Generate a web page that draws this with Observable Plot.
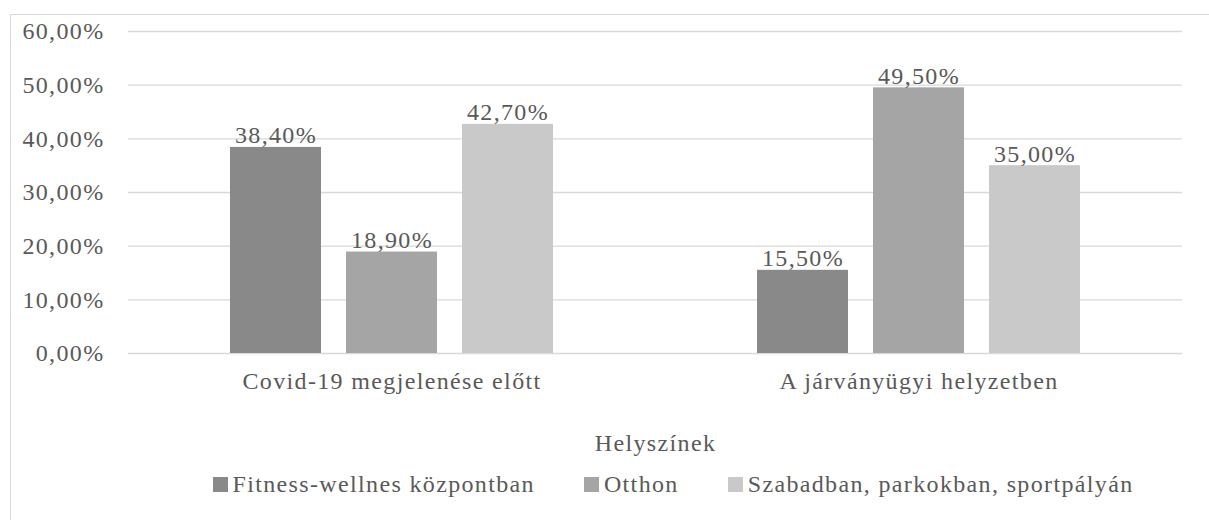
<!DOCTYPE html>
<html><head><meta charset="utf-8">
<script src="https://cdn.jsdelivr.net/npm/d3@7"></script>
<script src="https://cdn.jsdelivr.net/npm/@observablehq/plot@0.6"></script>
<style>
body{margin:0;background:#fff;font-family:"Liberation Serif","Times New Roman",serif;color:#595959;}
#frame{position:absolute;left:10px;top:14px;width:1400px;height:700px;border:1px solid #d9d9d9;pointer-events:none;}
#chart{position:absolute;left:0;top:0;}
#legend{position:absolute;left:0;top:471px;width:1346px;display:flex;justify-content:center;gap:49px;font-size:24px;letter-spacing:1.35px;line-height:26px;}
.item{display:flex;align-items:center;gap:5px}
.sw{width:15px;height:15px;display:inline-block}
svg text{letter-spacing:1.35px}
</style></head><body>
<div id="chart"></div><div id="legend"></div><div id="frame"></div>
<script>
const groups = ["Covid-19 megjelenése előtt", "A járványügyi helyzetben"];
const series = ["Fitness-wellnes központban", "Otthon", "Szabadban, parkokban, sportpályán"];
const fitness = [0.384, 0.155];
const otthon = [0.189, 0.495];
const szabad = [0.427, 0.350];
const colors = ["#898989", "#a5a5a5", "#c9c9c9"];
const yTicks = [0, 0.1, 0.2, 0.3, 0.4, 0.5, 0.6];
const xLabel = "Helyszínek";

const data = [];
groups.forEach((g, i) => {
  [fitness, otthon, szabad].forEach((s, j) => data.push({group: g, series: series[j], value: s[i]}));
});
const fmt = d => (d * 100).toFixed(2).replace(".", ",") + "%";

const plot = Plot.plot({
  width: 1209, height: 460,
  marginLeft: 127, marginRight: 27, marginTop: 31, marginBottom: 107,
  style: {fontFamily: "'Liberation Serif','Times New Roman',serif", fontSize: "24px", color: "#595959", background: "transparent"},
  fx: {domain: groups, padding: 0},
  x: {domain: series, paddingInner: 0.2137, paddingOuter: 0.861, axis: null},
  y: {domain: [0, 0.6]},
  color: {domain: series, range: colors},
  marks: [
    Plot.ruleY(yTicks, {stroke: "#d9d9d9", strokeWidth: 1.3}),
    Plot.axisY(yTicks, {tickFormat: fmt, tickSize: 0, tickPadding: 24, label: null, fontSize: 24}),
    Plot.axisFx({anchor: "bottom", tickSize: 0, tickPadding: 18, label: xLabel, labelAnchor: "center", labelArrow: "none", labelOffset: 97, fontSize: 24}),
    Plot.barY(data, {fx: "group", x: "series", y: "value", fill: "series"}),
    Plot.text(data, {fx: "group", x: "series", y: "value", text: d => fmt(d.value), lineAnchor: "bottom", dy: -4, fontSize: 24, fill: "#595959"})
  ]
});
document.getElementById("chart").appendChild(plot);

const legend = document.getElementById("legend");
series.forEach((s, i) => {
  const it = document.createElement("div");
  it.className = "item";
  const sw = document.createElement("span");
  sw.className = "sw";
  sw.style.background = colors[i];
  const t = document.createElement("span");
  t.textContent = s;
  it.appendChild(sw); it.appendChild(t);
  legend.appendChild(it);
});
</script>
</body></html>
